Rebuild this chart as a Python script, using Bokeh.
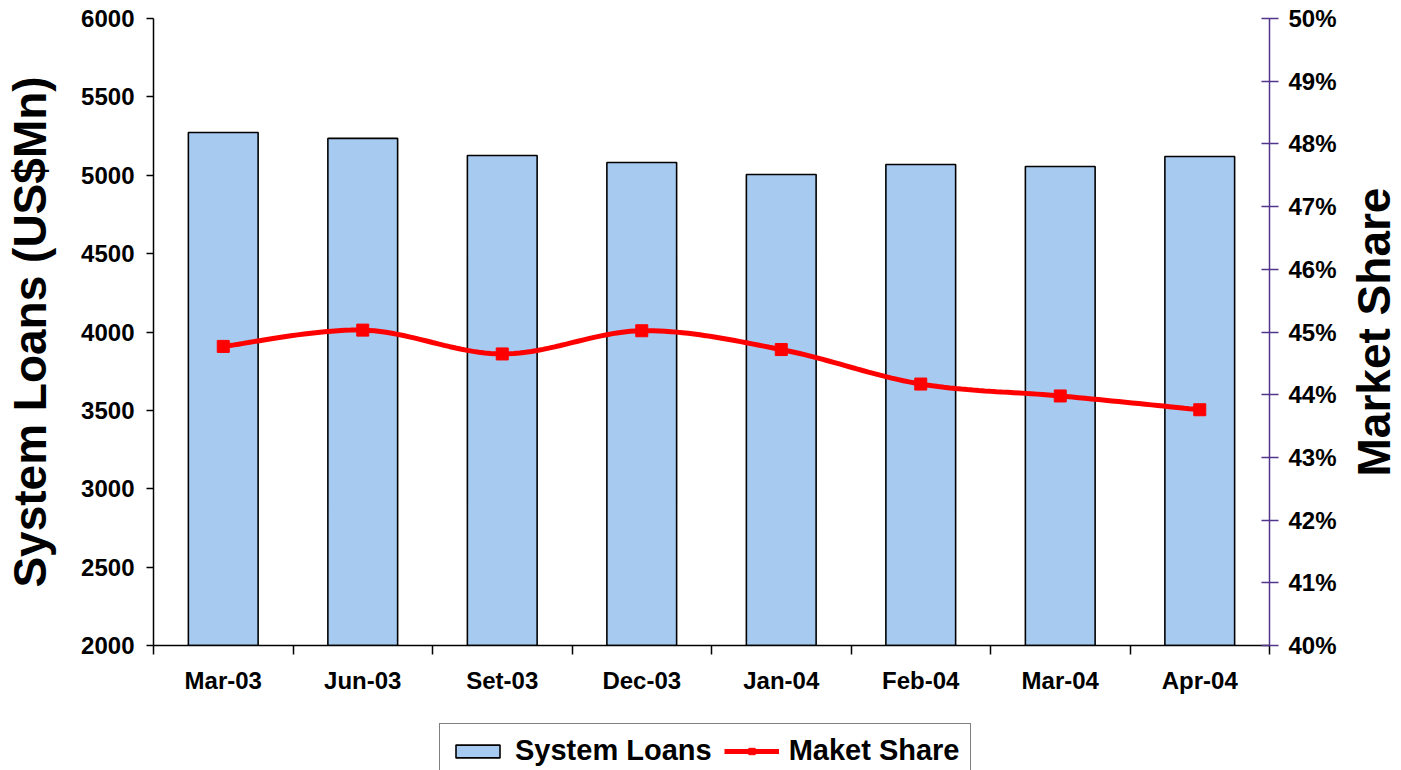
import math

from bokeh.plotting import figure
from bokeh.layouts import column, row
from bokeh.models import (Range1d, LinearAxis, FixedTicker, NumeralTickFormatter,
                          Legend, LegendItem, ColumnDataSource, Label)
from bokeh.embed import file_html
from bokeh.resources import INLINE

# Data
months = ["Mar-03", "Jun-03", "Set-03", "Dec-03", "Jan-04", "Feb-04", "Mar-04", "Apr-04"]
system_loans = [5273, 5235, 5126, 5081, 5005, 5069, 5056, 5120]          # US$ Mn
market_share = [0.4477, 0.4503, 0.4465, 0.4502, 0.4472, 0.4417, 0.4398, 0.4376]

loan_ticks = [2000, 2500, 3000, 3500, 4000, 4500, 5000, 5500, 6000]
share_ticks = [0.40, 0.41, 0.42, 0.43, 0.44, 0.45, 0.46, 0.47, 0.48, 0.49, 0.50]

FONT = "Liberation Sans"
AXIS_PURPLE = "#51348c"
BAR_FILL = "#A6CAF0"
LINE_RED = "#FF0000"

MAIN_W, SIDE_W = 1346, 55
n = len(months)
centers = [i + 0.5 for i in range(n)]
bounds = list(range(n + 1))


def smooth(xs, ys, steps=24):
    """Catmull-Rom curve through the points (same idea as a spreadsheet 'smoothed line')."""
    px, py = [], []
    m = len(xs)
    for i in range(m - 1):
        x0, y0 = (xs[i - 1], ys[i - 1]) if i > 0 else (xs[i], ys[i])
        x1, y1 = xs[i], ys[i]
        x2, y2 = xs[i + 1], ys[i + 1]
        x3, y3 = (xs[i + 2], ys[i + 2]) if i + 2 < m else (xs[i + 1], ys[i + 1])
        c1x, c1y = x1 + (x2 - x0) / 6, y1 + (y2 - y0) / 6
        c2x, c2y = x2 - (x3 - x1) / 6, y2 - (y3 - y1) / 6
        for s in range(steps + (1 if i == m - 2 else 0)):
            t = s / steps
            a, b, c, d = (1 - t) ** 3, 3 * (1 - t) ** 2 * t, 3 * (1 - t) * t ** 2, t ** 3
            px.append(a * x1 + b * c1x + c * c2x + d * x2)
            py.append(a * y1 + b * c1y + c * c2y + d * y2)
    return px, py


def style_labels(axis, size="24px"):
    axis.major_label_text_font = FONT
    axis.major_label_text_font_style = "bold"
    axis.major_label_text_font_size = size
    axis.major_label_text_color = "black"
    axis.axis_label_text_font = FONT
    axis.axis_label_text_font_style = "bold"
    axis.axis_label_text_font_size = "46px"
    axis.axis_label_text_color = "black"


def bare(fig):
    fig.outline_line_color = None
    fig.xgrid.visible = False
    fig.ygrid.visible = False
    fig.background_fill_color = "white"
    fig.border_fill_color = "white"


# ---- main chart -------------------------------------------------------------
p = figure(width=MAIN_W, height=700, output_backend="svg", toolbar_location=None,
           x_range=Range1d(0, n), y_range=Range1d(2000, 6000),
           min_border_left=153, min_border_right=MAIN_W - 1269, min_border_top=18,
           min_border_bottom=55, x_axis_location=None, y_axis_location=None)
p.extra_y_ranges = {"share": Range1d(0.40, 0.50)}
bare(p)

bar_src = ColumnDataSource(dict(x=centers, top=system_loans, month=months))
p.vbar(x="x", top="top", bottom=2000, width=0.5, source=bar_src,
       fill_color=BAR_FILL, line_color="black", line_width=1.6)

sx, sy = smooth(centers, market_share)
p.line(sx, sy, y_range_name="share", line_color=LINE_RED, line_width=5)
p.scatter(centers, market_share, y_range_name="share", marker="square",
          size=12, fill_color=LINE_RED, line_color=LINE_RED)

# Left axis: system loans
ya = LinearAxis(ticker=FixedTicker(ticks=loan_ticks), axis_label="System Loans (US$Mn)")
ya.axis_line_color = "black"
ya.axis_line_width = 1.5
ya.major_tick_line_color = "black"
ya.major_tick_line_width = 1.5
ya.major_tick_in = 0
ya.major_tick_out = 7
ya.minor_tick_line_color = None
ya.major_label_standoff = 12
ya.axis_label_standoff = 22
style_labels(ya)
p.add_layout(ya, "left")

# Right axis: market share
ra = LinearAxis(y_range_name="share", ticker=FixedTicker(ticks=share_ticks),
                formatter=NumeralTickFormatter(format="0%"))
ra.axis_line_color = AXIS_PURPLE
ra.axis_line_width = 1.5
ra.major_tick_line_color = AXIS_PURPLE
ra.major_tick_line_width = 1.5
ra.major_tick_in = 8
ra.major_tick_out = 9
ra.minor_tick_line_color = None
ra.major_label_standoff = 10
style_labels(ra)
p.add_layout(ra, "right")

# Bottom axis: month names at category centres, ticks at category boundaries
xa = LinearAxis(ticker=FixedTicker(ticks=centers, minor_ticks=bounds),
                major_label_overrides={c: m for c, m in zip(centers, months)})
xa.axis_line_color = "black"
xa.axis_line_width = 1.5
xa.major_tick_line_color = None
xa.minor_tick_line_color = "black"
xa.minor_tick_line_width = 1.5
xa.minor_tick_in = 0
xa.minor_tick_out = 9
xa.major_tick_out = 9
xa.major_label_standoff = 12
style_labels(xa)
p.add_layout(xa, "below")

# ---- legend strip under the chart ---------------------------------------------
# The key renderers carry the same series but stay hidden;
# they only lend their styling to the legend entries.
q = figure(width=MAIN_W, height=70, output_backend="svg", toolbar_location=None,
           x_range=Range1d(100, 101), y_range=Range1d(10000, 10001), min_border=0,
           x_axis_location=None, y_axis_location=None)
bare(q)
key_bar = q.vbar(x=centers, top=system_loans, bottom=2000, width=0.5,
                 fill_color=BAR_FILL, line_color="black", line_width=1.6, visible=False)
key_line = q.line(x=centers, y=market_share, line_color=LINE_RED, line_width=5, visible=False)
key_pts = q.scatter(x=centers, y=market_share, marker="square", size=12,
                    fill_color=LINE_RED, line_color=LINE_RED, visible=False)

legend = Legend(items=[LegendItem(label="System Loans", renderers=[key_bar]),
                       LegendItem(label="Maket Share", renderers=[key_line, key_pts])],
                orientation="horizontal", location=(286, -8))
legend.label_text_font = FONT
legend.label_text_font_style = "bold"
legend.label_text_font_size = "29px"
legend.label_text_color = "black"
legend.border_line_color = "black"
legend.border_line_width = 1.5
legend.background_fill_alpha = 1
legend.padding = 10
legend.spacing = 12
legend.label_standoff = 10
legend.glyph_width = 55
legend.glyph_height = 16
legend.margin = 0
q.add_layout(legend, "center")

# ---- right-hand title strip (reads bottom to top, like the left title) ----------
r = figure(width=SIDE_W, height=700, output_backend="svg", toolbar_location=None,
           x_range=Range1d(0, 1), y_range=Range1d(0, 1),
           min_border_left=0, min_border_right=0, min_border_top=18, min_border_bottom=55,
           x_axis_location=None, y_axis_location=None)
bare(r)
r.add_layout(Label(x=0.5, y=0.5, text="Market Share", angle=math.pi / 2,
                   text_align="center", text_baseline="middle",
                   text_font=FONT, text_font_style="bold", text_font_size="46px",
                   text_color="black"))

layout = row(column(p, q, spacing=0), r, spacing=0)
open("out.html", "w").write(file_html(layout, INLINE))
